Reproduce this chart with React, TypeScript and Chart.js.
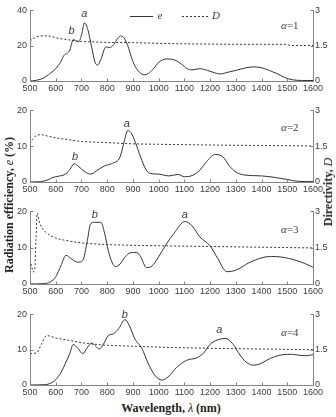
import React, { useEffect, useRef } from "react";
import { Chart, registerables } from "chart.js";

Chart.register(...registerables);

// ---------- data ----------
const wavelengthTicks = [500, 600, 700, 800, 900, 1000, 1100, 1200, 1300, 1400, 1500, 1600];
const effTicksA1 = [0, 20, 40];
const effTicks = [0, 10, 20];
const dirTicks = [0, 1.5, 3];

// alpha = 1
const wl1 = [500,520,550,580,600,620,632,645,655,668,680,690,700,712,725,740,752,762,775,795,810,825,840,852,865,880,895,910,925,945,960,980,1000,1030,1060,1090,1110,1130,1160,1190,1210,1240,1270,1300,1340,1370,1400,1430,1460,1490,1520,1560,1600];
const eff1 = [0,0.3,1.5,4.5,7,11,14.5,15.8,17.5,23.5,22.5,22.3,26,33,29,19,11,9,12,19.3,19,20.5,24,25.5,24.5,20,13,8,5,3.5,4.2,7,10.5,12.5,12,9.5,7,6.3,7,6,5,4,5,6,7.5,8,7.5,6,4.2,2,0.7,0.3,0.3];
const dwl1 = [500,520,550,580,600,650,700,750,800,900,1000,1100,1200,1300,1400,1500,1510,1600];
const dir1 = [1.7,1.85,1.92,1.9,1.84,1.75,1.68,1.66,1.64,1.63,1.6,1.58,1.57,1.56,1.56,1.56,1.51,1.51];

// alpha = 2
const wl2 = [500,540,570,590,610,640,655,672,690,710,735,760,790,820,850,865,880,895,915,935,955,975,1000,1040,1075,1100,1130,1160,1190,1220,1250,1275,1300,1330,1400,1450,1500,1540,1600];
const eff2 = [0,0.1,0.6,1.3,1.6,2.3,3.5,5.1,4.3,3,2.2,3.2,4.5,5.2,7,11,14.4,13.5,10,6,3,2.3,2.2,1.7,2.1,1.5,1.8,3.3,6,7.7,7,4.5,2.8,2,1.7,1.3,0.7,0.2,0.1];
const dwl2 = [500,510,525,545,570,600,650,700,800,900,1000,1200,1400,1600];
const dir2 = [1.6,1.78,1.95,1.98,1.92,1.85,1.77,1.7,1.65,1.6,1.58,1.55,1.53,1.51];

// alpha = 3
const wl3 = [500,550,580,600,620,640,660,685,705,723,735,750,775,790,805,820,832,850,870,890,915,930,953,975,1000,1030,1060,1102,1130,1160,1200,1230,1265,1300,1350,1400,1435,1480,1530,1570,1600];
const eff3 = [0,0.1,0.6,2,5,7.9,7,6,6.5,12,16.5,17,17,14,9,5.8,4.8,5.5,7.5,8.6,8.7,7.5,4.5,5,7.5,11,14,17.2,16,13,10.5,7,3.4,3.8,5.8,7.2,7.6,7.4,6.6,5.6,4.6];
const dwl3 = [500,507,513,518,523,528,535,545,560,580,600,650,700,800,900,1000,1200,1400,1600];
const dir3 = [1.0,0.7,0.5,0.6,1.8,2.93,2.6,2.35,2.15,2.0,1.9,1.78,1.7,1.63,1.6,1.58,1.55,1.52,1.49];

// alpha = 4
const wl4 = [500,560,580,600,620,640,655,668,685,705,722,740,755,769,785,804,824,845,869,885,908,934,960,985,1012,1040,1070,1109,1148,1174,1200,1230,1258,1290,1316,1340,1368,1395,1420,1450,1484,1520,1549,1575,1600];
const eff4 = [0,0.1,0.5,1.5,3.5,6.5,9,11.5,10.5,8.9,10.5,11.9,11,10.2,11.5,14,14.5,16,18.5,17,13,10.5,6,2.8,1.4,2.5,5,7,7.7,9,11.5,12.8,13.2,11.5,8.5,6.5,5.6,6,7,8,8.6,8.7,8.4,8.3,8.6];
const dwl4 = [500,525,545,565,600,650,700,800,900,1000,1200,1400,1600];
const dir4 = [1.34,1.36,1.75,2.1,2.0,1.9,1.8,1.69,1.65,1.61,1.56,1.53,1.5];

// peak labels: [text, wavelength, efficiency]
const peaks1: [string, number, number][] = [["a", 711, 38], ["b", 662, 28.3]];
const peaks2: [string, number, number][] = [["a", 876, 16.3], ["b", 675, 7]];
const peaks3: [string, number, number][] = [["b", 752, 18.9], ["a", 1102, 18.9]];
const peaks4: [string, number, number][] = [["b", 869, 19.8], ["a", 1236, 15.7]];
const alphaLabels = ["1", "2", "3", "4"];

// ---------- styles ----------
const AXIS_COLOR = "#858585";
const TEXT_COLOR = "#3c3c3c";
const LINE_COLOR = "#333333";
const PLOT_LEFT = 30;
const PLOT_RIGHT = 313;
const CANVAS_W = 336;
const TOP_PAD = 8;
const X_AXIS_H = 13;

type PanelCfg = {
  top: number;
  h: number;
  yMax: number;
  yTicks: number[];
  wl: number[];
  eff: number[];
  dwl: number[];
  dir: number[];
  peaks: [string, number, number][];
  alpha: string;
  alphaY: number;
  legend: boolean;
};

const panels: PanelCfg[] = [
  { top: 10, h: 71, yMax: 40, yTicks: effTicksA1, wl: wl1, eff: eff1, dwl: dwl1, dir: dir1, peaks: peaks1, alpha: alphaLabels[0], alphaY: 31, legend: true },
  { top: 110, h: 72, yMax: 20, yTicks: effTicks, wl: wl2, eff: eff2, dwl: dwl2, dir: dir2, peaks: peaks2, alpha: alphaLabels[1], alphaY: 15, legend: false },
  { top: 211, h: 73, yMax: 20, yTicks: effTicks, wl: wl3, eff: eff3, dwl: dwl3, dir: dir3, peaks: peaks3, alpha: alphaLabels[2], alphaY: 14.8, legend: false },
  { top: 314, h: 71, yMax: 20, yTicks: effTicks, wl: wl4, eff: eff4, dwl: dwl4, dir: dir4, peaks: peaks4, alpha: alphaLabels[3], alphaY: 14.7, legend: false },
];

function Panel({ cfg }: { cfg: PanelCfg }) {
  const ref = useRef<HTMLCanvasElement | null>(null);

  useEffect(() => {
    if (!ref.current) return;
    const decor = {
      id: "decor",
      afterDatasetsDraw(chart: any) {
        const { ctx, chartArea: a, scales } = chart;
        const x = scales.x, y = scales.y, y1 = scales.y1;
        ctx.save();
        ctx.strokeStyle = AXIS_COLOR;
        ctx.lineWidth = 1;
        const L = Math.round(a.left) + 0.5;
        const R = Math.round(a.right) + 0.5;
        const B = Math.round(a.bottom) + 0.5;
        const T = Math.round(a.top);
        ctx.beginPath();
        ctx.moveTo(L, T);
        ctx.lineTo(L, B);
        ctx.lineTo(R, B);
        ctx.lineTo(R, T);
        for (const v of wavelengthTicks) {
          const px = Math.round(x.getPixelForValue(v)) + 0.5;
          ctx.moveTo(px, B);
          ctx.lineTo(px, B - 3);
        }
        for (const v of cfg.yTicks) {
          const py = Math.round(y.getPixelForValue(v)) + 0.5;
          ctx.moveTo(L, py);
          ctx.lineTo(L + 3, py);
        }
        for (const v of dirTicks) {
          const py = Math.round(y1.getPixelForValue(v)) + 0.5;
          ctx.moveTo(R, py);
          ctx.lineTo(R - 3, py);
        }
        ctx.stroke();

        // peak labels
        ctx.fillStyle = TEXT_COLOR;
        ctx.textAlign = "center";
        ctx.textBaseline = "middle";
        ctx.font = 'italic 11px "Liberation Sans", Arial, sans-serif';
        for (const [t, wx, wy] of cfg.peaks) {
          ctx.fillText(t, x.getPixelForValue(wx), y.getPixelForValue(wy));
        }

        // alpha label
        const ax = x.getPixelForValue(1510);
        const ay = y.getPixelForValue(cfg.alphaY);
        ctx.font = 'italic 11px "Liberation Serif", serif';
        const w1 = ctx.measureText("α").width;
        ctx.font = '11px "Liberation Serif", serif';
        const w2 = ctx.measureText("=" + cfg.alpha).width;
        const sx = ax - (w1 + w2) / 2;
        ctx.textAlign = "left";
        ctx.font = 'italic 11px "Liberation Serif", serif';
        ctx.fillText("α", sx, ay);
        ctx.font = '11px "Liberation Serif", serif';
        ctx.fillText("=" + cfg.alpha, sx + w1, ay);

        // legend
        if (cfg.legend) {
          const ly = Math.round(a.top + 6) + 0.5;
          ctx.strokeStyle = LINE_COLOR;
          ctx.beginPath();
          ctx.moveTo(a.left + 100, ly);
          ctx.lineTo(a.left + 123, ly);
          ctx.stroke();
          ctx.setLineDash([2, 2]);
          ctx.beginPath();
          ctx.moveTo(a.left + 152, ly);
          ctx.lineTo(a.left + 178, ly);
          ctx.stroke();
          ctx.setLineDash([]);
          ctx.font = 'italic 11px "Liberation Serif", serif';
          ctx.textAlign = "center";
          ctx.fillText("e", a.left + 130, ly);
          ctx.fillText("D", a.left + 186, ly);
        }
        ctx.restore();
      },
    };

    const tickFont = { family: '"Liberation Sans", Arial, sans-serif', size: 9 };
    const noGrid = { display: false, drawTicks: false, tickLength: 0 };
    const chart = new Chart(ref.current, {
      type: "line",
      data: {
        datasets: [
          {
            label: "e",
            data: cfg.wl.map((w, i) => ({ x: w, y: cfg.eff[i] })),
            borderColor: LINE_COLOR,
            borderWidth: 1,
            pointRadius: 0,
            cubicInterpolationMode: "monotone",
            yAxisID: "y",
          },
          {
            label: "D",
            data: cfg.dwl.map((w, i) => ({ x: w, y: cfg.dir[i] })),
            borderColor: LINE_COLOR,
            borderWidth: 1,
            borderDash: [2, 2],
            pointRadius: 0,
            cubicInterpolationMode: "monotone",
            yAxisID: "y1",
          },
        ],
      },
      options: {
        responsive: false,
        animation: false,
        events: [],
        layout: { padding: { top: TOP_PAD, left: 0, right: 0, bottom: 0 } },
        plugins: { legend: { display: false }, tooltip: { enabled: false } },
        scales: {
          x: {
            type: "linear",
            min: 500,
            max: 1600,
            grid: noGrid,
            border: { display: false },
            afterFit: (s: any) => { s.height = X_AXIS_H; },
            afterBuildTicks: (s: any) => { s.ticks = wavelengthTicks.map((v) => ({ value: v })); },
            ticks: { font: tickFont, color: TEXT_COLOR, padding: 2, maxRotation: 0, autoSkip: false, callback: (v: any) => String(v) },
          },
          y: {
            type: "linear",
            position: "left",
            min: 0,
            max: cfg.yMax,
            grid: noGrid,
            border: { display: false },
            afterFit: (s: any) => { s.width = PLOT_LEFT; },
            afterBuildTicks: (s: any) => { s.ticks = cfg.yTicks.map((v) => ({ value: v })); },
            ticks: { font: tickFont, color: TEXT_COLOR, padding: 3, callback: (v: any) => String(v) },
          },
          y1: {
            type: "linear",
            position: "right",
            min: 0,
            max: 3,
            grid: noGrid,
            border: { display: false },
            afterFit: (s: any) => { s.width = CANVAS_W - PLOT_RIGHT; },
            afterBuildTicks: (s: any) => { s.ticks = dirTicks.map((v) => ({ value: v })); },
            ticks: { font: tickFont, color: TEXT_COLOR, padding: 2, callback: (v: any) => String(v) },
          },
        },
      } as any,
      plugins: [decor],
    });
    return () => chart.destroy();
  }, [cfg]);

  const height = cfg.h + TOP_PAD + X_AXIS_H;
  return (
    <canvas
      ref={ref}
      width={CANVAS_W}
      height={height}
      style={{ position: "absolute", left: 0, top: cfg.top - TOP_PAD, width: CANVAS_W, height, display: "block" }}
    />
  );
}

export default function App() {
  const titleFont: React.CSSProperties = {
    position: "absolute",
    fontFamily: '"Liberation Serif", "Times New Roman", serif',
    fontWeight: "bold",
    fontSize: 12,
    color: "#222",
    whiteSpace: "nowrap",
    lineHeight: 1,
  };
  return (
    <div style={{ position: "fixed", left: 0, top: 0, width: 336, height: 417, background: "#fff", overflow: "hidden" }}>
      {panels.map((p, i) => (
        <Panel key={i} cfg={p} />
      ))}
      <div style={{ ...titleFont, left: 9, top: 205, transform: "translate(-50%, -50%) rotate(-90deg)" }}>
        Radiation efficiency, <i style={{ fontWeight: "normal" }}>e</i> (%)
      </div>
      <div style={{ ...titleFont, left: 328, top: 192, transform: "translate(-50%, -50%) rotate(-90deg)" }}>
        Directivity, <i style={{ fontWeight: "normal" }}>D</i>
      </div>
      <div style={{ ...titleFont, left: 171, top: 408, transform: "translate(-50%, -50%)" }}>
        Wavelength, <i style={{ fontWeight: "normal" }}>λ</i> (nm)
      </div>
    </div>
  );
}
